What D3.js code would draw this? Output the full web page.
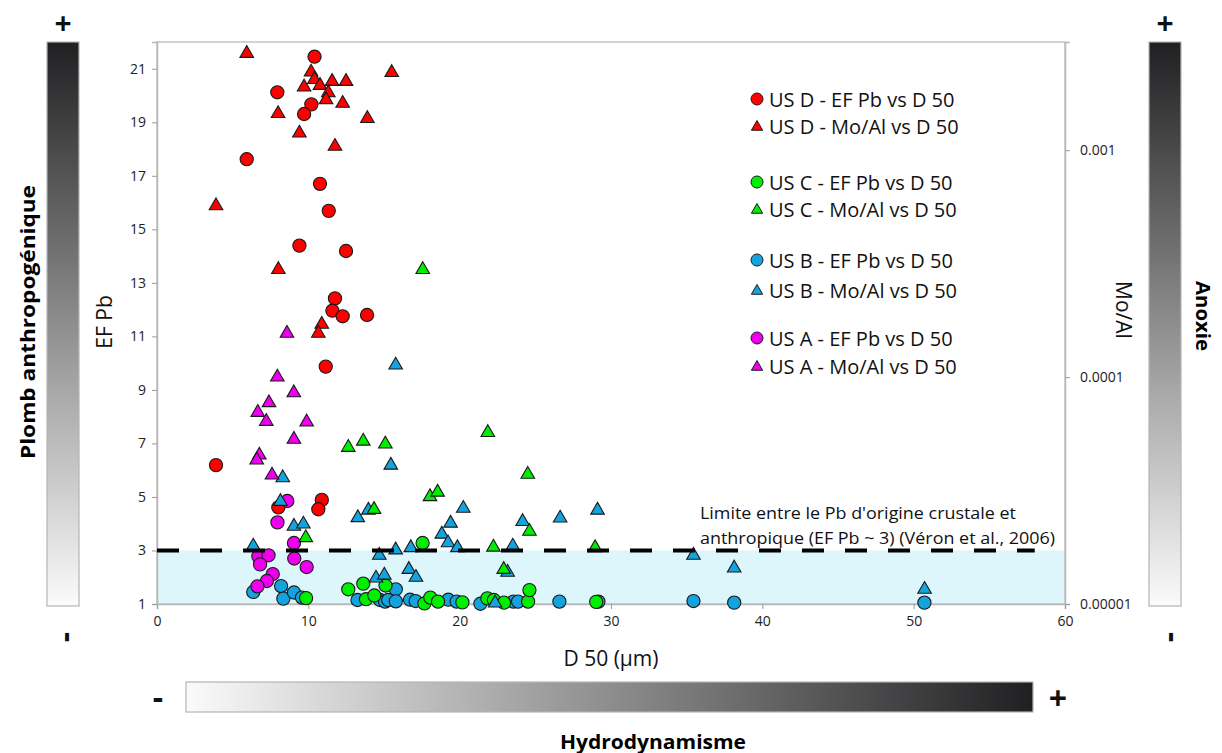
<!DOCTYPE html>
<html><head><meta charset="utf-8">
<script src="https://cdn.jsdelivr.net/npm/d3@7"></script>
<style>
body{margin:0;background:#fff;}
text{font-family:"Open Sans",sans-serif;}
</style></head>
<body>
<svg id="chart" width="1222" height="753"></svg>
<script>
// ---- DATA ----
// [D50 (µm), EF Pb]
const usD_EF = [[10.41,21.45],[7.95,20.12],[10.20,19.67],[9.72,19.31],[5.93,17.62],[10.77,16.70],[11.35,15.69],[9.41,14.39],[12.49,14.19],[11.76,12.42],[11.59,11.96],[12.27,11.75],[13.88,11.80],[11.15,9.87],[3.90,6.19],[10.89,4.89],[10.66,4.54],[8.02,4.61]];
const usC_EF = [[9.85,1.22],[12.64,1.55],[13.63,1.76],[13.81,1.18],[14.36,1.32],[15.10,1.69],[17.55,3.28],[17.67,1.02],[18.06,1.24],[18.57,1.09],[20.18,1.06],[21.83,1.21],[22.26,1.15],[22.93,1.05],[24.52,1.09],[24.61,1.52],[29.02,1.08]];
const usB_EF = [[6.36,1.45],[8.20,1.67],[8.35,1.20],[9.05,1.43],[9.58,1.24],[13.25,1.15],[14.74,1.15],[15.07,1.09],[15.28,1.15],[15.78,1.55],[15.78,1.10],[16.72,1.16],[17.09,1.11],[19.25,1.16],[19.80,1.09],[21.37,1.01],[23.55,1.09],[23.86,1.09],[26.59,1.09],[29.17,1.09],[35.45,1.11],[38.14,1.05],[50.71,1.05]];
const usA_EF = [[8.61,4.85],[7.96,4.05],[9.05,3.28],[6.70,2.78],[7.37,2.82],[6.81,2.48],[9.07,2.70],[9.89,2.38],[7.65,2.12],[7.26,1.86],[6.64,1.66]];
// [D50 (µm), Mo/Al]
const usD_MoAl = [[5.93,2.67e-3],[15.51,2.20e-3],[10.18,2.21e-3],[10.40,2.05e-3],[9.72,1.90e-3],[10.77,1.93e-3],[11.57,2.01e-3],[12.49,2.01e-3],[11.32,1.79e-3],[11.17,1.67e-3],[12.27,1.61e-3],[8.00,1.45e-3],[13.90,1.38e-3],[9.41,1.19e-3],[11.76,1.04e-3],[3.90,5.69e-4],[8.02,2.98e-4],[10.89,1.71e-4],[10.66,1.56e-4]];
const usC_MoAl = [[17.56,2.98e-4],[12.64,4.90e-5],[13.63,5.22e-5],[15.09,5.07e-5],[21.86,5.70e-5],[24.50,3.73e-5],[18.04,2.97e-5],[18.54,3.11e-5],[14.34,2.61e-5],[24.61,2.09e-5],[9.83,1.96e-5],[22.23,1.78e-5],[28.95,1.77e-5],[22.91,1.42e-5]];
const usB_MoAl = [[15.77,1.13e-4],[15.45,4.09e-5],[8.31,3.60e-5],[8.16,2.83e-5],[13.97,2.59e-5],[13.27,2.40e-5],[9.05,2.20e-5],[9.67,2.25e-5],[6.36,1.80e-5],[14.69,1.64e-5],[15.77,1.73e-5],[16.77,1.77e-5],[14.47,1.30e-5],[15.02,1.34e-5],[16.64,1.42e-5],[17.11,1.31e-5],[20.24,2.64e-5],[19.40,2.27e-5],[18.82,2.03e-5],[19.23,1.86e-5],[19.85,1.77e-5],[23.51,1.80e-5],[24.16,2.31e-5],[26.64,2.39e-5],[29.11,2.59e-5],[23.17,1.38e-5],[22.34,1.01e-5],[35.45,1.64e-5],[38.14,1.44e-5],[50.72,1.16e-5]];
const usA_MoAl = [[8.59,1.56e-4],[7.95,1.00e-4],[9.04,8.53e-5],[7.40,7.71e-5],[6.66,6.99e-5],[7.22,6.38e-5],[9.89,6.34e-5],[9.05,5.32e-5],[6.76,4.53e-5],[6.59,4.31e-5],[7.60,3.70e-5]];

const xTicks = [0,10,20,30,40,50,60];
const efTicks = [1,3,5,7,9,11,13,15,17,19,21];
const moTicks = [1e-5,1e-4,1e-3];
const moTickLabels = ["0.00001","0.0001","0.001"];
const efThreshold = 3;
const legendLabels = ["US D - EF Pb vs D 50","US D - Mo/Al vs D 50","US C - EF Pb vs D 50","US C - Mo/Al vs D 50","US B - EF Pb vs D 50","US B - Mo/Al vs D 50","US A - EF Pb vs D 50","US A - Mo/Al vs D 50"];

// ---- STYLE ----
const C = {D:"#ff0000", C:"#00ee00", B:"#14a3dc", A:"#ee00ee"};
const svg = d3.select("#chart");
const L=157, R=1065, T=42, B=604;
const x = d3.scaleLinear([0,60],[L,R]);
const yEF = d3.scaleLinear([1,22],[B,T]);
const yMo = d3.scaleLog([1e-5,3e-3],[B,T]);

// gradients
const defs = svg.append("defs");
function grad(id,x1,y1,x2,y2){
  const g = defs.append("linearGradient").attr("id",id).attr("x1",x1).attr("y1",y1).attr("x2",x2).attr("y2",y2);
  g.append("stop").attr("offset","0%").attr("stop-color","#202022");
  g.append("stop").attr("offset","100%").attr("stop-color","#fbfbfb");
}
grad("gv","0","0","0","1");
grad("gh","1","0","0","0");

// side bars
svg.append("rect").attr("x",47).attr("y",42).attr("width",32).attr("height",564).attr("fill","url(#gv)").attr("stroke","#b5b5b5").attr("stroke-width",1.2);
svg.append("rect").attr("x",1149).attr("y",42).attr("width",32).attr("height",564).attr("fill","url(#gv)").attr("stroke","#b5b5b5").attr("stroke-width",1.2);
svg.append("rect").attr("x",186).attr("y",682).attr("width",847).attr("height",30).attr("fill","url(#gh)").attr("stroke","#b5b5b5").attr("stroke-width",1.2);

function sym(t,xx,yy,rot,size){
  const e = svg.append("text").attr("x",xx).attr("y",yy).attr("text-anchor","middle").attr("dominant-baseline","central")
    .attr("font-weight","bold").attr("font-size",size||32).attr("fill","#111").text(t);
  if(rot) e.attr("transform",`rotate(${rot},${xx},${yy})`);
}
sym("+",63,22,0,30);
sym("+",1165,22,0,30);
sym("+",1058,697);
sym("-",63,637,-90);
sym("-",1167,637,-90);
sym("-",158,696,0);

svg.append("text").attr("transform","translate(27,322) rotate(-90)").attr("text-anchor","middle").attr("dominant-baseline","central")
  .attr("font-weight","bold").attr("font-size",20).attr("textLength",274).attr("lengthAdjust","spacingAndGlyphs").text("Plomb anthropogénique");
svg.append("text").attr("transform","translate(1203,316) rotate(90)").attr("text-anchor","middle").attr("dominant-baseline","central")
  .attr("font-weight","bold").attr("font-size",20).attr("textLength",70).attr("lengthAdjust","spacingAndGlyphs").text("Anoxie");
svg.append("text").attr("x",653).attr("y",741).attr("text-anchor","middle").attr("dominant-baseline","central")
  .attr("font-weight","bold").attr("font-size",20).attr("textLength",186).attr("lengthAdjust","spacingAndGlyphs").text("Hydrodynamisme");

// plot background + band
svg.append("rect").attr("x",L).attr("y",T).attr("width",R-L).attr("height",B-T).attr("fill","#fff");
svg.append("rect").attr("x",L).attr("y",yEF(efThreshold)).attr("width",R-L).attr("height",yEF(1)-yEF(efThreshold)).attr("fill","#ddf6fc");
svg.append("rect").attr("x",L).attr("y",T).attr("width",R-L).attr("height",B-T).attr("fill","none").attr("stroke","#c4c4c4").attr("stroke-width",1.5);

// axes
const ax = svg.append("g").attr("transform",`translate(0,${B})`).call(d3.axisBottom(x).tickValues(xTicks).tickSize(5).tickPadding(7));
const ayl = svg.append("g").attr("transform",`translate(${L},0)`).call(d3.axisLeft(yEF).tickValues(efTicks).tickSize(5).tickPadding(6));
const ayr = svg.append("g").attr("transform",`translate(${R},0)`).call(d3.axisRight(yMo).tickValues(moTicks).tickFormat((d,i)=>moTickLabels[i]).tickSize(5).tickPadding(10));
[ax,ayl,ayr].forEach(g=>{
  g.select(".domain").attr("stroke","#b8b8b8").attr("stroke-width",1.5);
  g.selectAll(".tick line").attr("stroke","#9a9a9a");
  g.selectAll(".tick text").attr("font-family","DejaVu Sans, sans-serif").attr("font-size",14).attr("fill","#222");
});

svg.append("text").attr("x",611).attr("y",658).attr("text-anchor","middle").attr("dominant-baseline","central").attr("font-size",21).attr("fill","#111").text("D 50 (µm)");
svg.append("text").attr("transform","translate(104,322) rotate(-90)").attr("text-anchor","middle").attr("dominant-baseline","central").attr("font-size",21).attr("fill","#111").text("EF Pb");
svg.append("text").attr("transform","translate(1124,310) rotate(90)").attr("text-anchor","middle").attr("dominant-baseline","central").attr("font-size",21).attr("fill","#111").text("Mo/Al");

// annotation
svg.append("text").attr("x",700).attr("y",512).attr("font-size",17).attr("textLength",316).attr("lengthAdjust","spacingAndGlyphs").attr("fill","#111").attr("dominant-baseline","central").text("Limite entre le Pb d'origine crustale et");
svg.append("text").attr("x",700).attr("y",537).attr("font-size",17).attr("textLength",355).attr("lengthAdjust","spacingAndGlyphs").attr("fill","#111").attr("dominant-baseline","central").text("anthropique (EF Pb ~ 3) (Véron et al., 2006)");

// markers
const tri = d3.symbol().type(d3.symbolTriangle).size(80);
function circles(data,col){
  svg.append("g").selectAll("circle").data(data).join("circle")
    .attr("cx",d=>x(d[0])).attr("cy",d=>yEF(d[1])).attr("r",6.6)
    .attr("fill",col).attr("stroke","#1a1a1a").attr("stroke-width",1.1);
}
function triangles(data,col){
  svg.append("g").selectAll("path").data(data).join("path")
    .attr("d",tri).attr("transform",d=>`translate(${x(d[0])},${yMo(d[1])})`)
    .attr("fill",col).attr("stroke","#1a1a1a").attr("stroke-width",1.1);
}
circles(usB_EF,C.B);
circles(usC_EF,C.C);
circles(usA_EF,C.A);
circles(usD_EF,C.D);
triangles(usB_MoAl,C.B);
triangles(usC_MoAl,C.C);
triangles(usA_MoAl,C.A);
triangles(usD_MoAl,C.D);

// threshold dashed line
svg.append("line").attr("x1",L).attr("x2",x(58)).attr("y1",yEF(efThreshold)).attr("y2",yEF(efThreshold))
  .attr("stroke","#000").attr("stroke-width",4).attr("stroke-dasharray","22,21");

// legend
const legY = [99,126,182,209,260,290,338,366];
const legCol = [C.D,C.D,C.C,C.C,C.B,C.B,C.A,C.A];
const lg = svg.append("g");
legendLabels.forEach((lab,i)=>{
  if(i%2===0){
    lg.append("circle").attr("cx",757).attr("cy",legY[i]).attr("r",6).attr("fill",legCol[i]).attr("stroke","#1a1a1a").attr("stroke-width",1);
  } else {
    lg.append("path").attr("d",d3.symbol().type(d3.symbolTriangle).size(55)).attr("transform",`translate(757,${legY[i]+1})`).attr("fill",legCol[i]).attr("stroke","#1a1a1a").attr("stroke-width",1);
  }
  lg.append("text").attr("x",769).attr("y",legY[i]).attr("dominant-baseline","central").attr("font-size",20).attr("fill","#111").text(lab);
});
</script>
</body></html>
